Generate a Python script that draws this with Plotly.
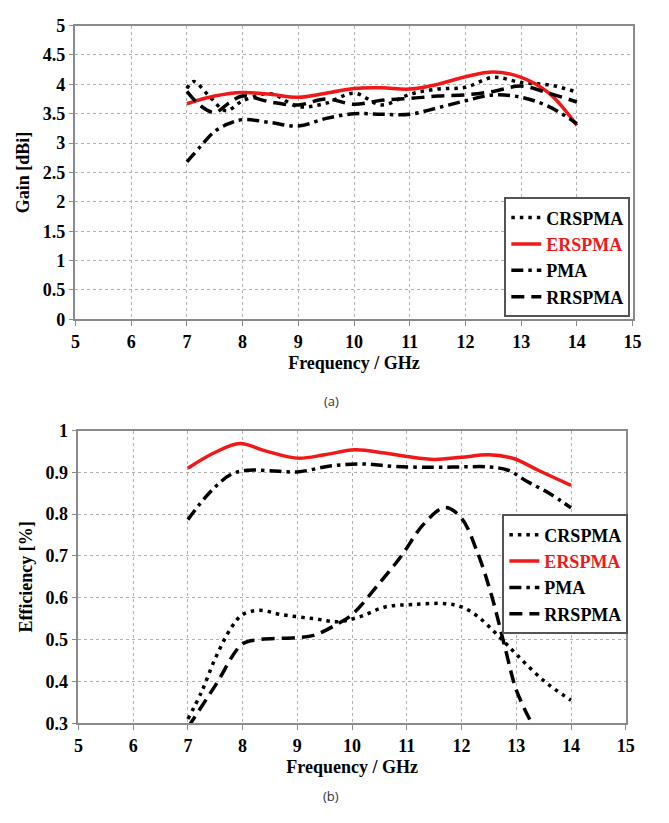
import plotly.graph_objects as go

# ---------------- data: (a) Gain ----------------
gain_cr_f = [7.0, 7.12, 7.4, 7.7, 8.0, 8.5, 9.0, 9.5, 10.0, 10.5, 11.0, 11.5, 12.0, 12.5, 13.0, 13.5, 14.0]
gain_cr = [3.93, 4.05, 3.80, 3.55, 3.72, 3.84, 3.62, 3.68, 3.85, 3.65, 3.83, 3.92, 3.95, 4.12, 4.03, 3.99, 3.87]

gain_er_f = [7.0, 7.5, 8.0, 8.5, 9.0, 9.5, 10.0, 10.5, 11.0, 11.5, 12.0, 12.5, 13.0, 13.5, 14.0]
gain_er = [3.67, 3.80, 3.86, 3.83, 3.78, 3.85, 3.93, 3.94, 3.92, 4.00, 4.13, 4.21, 4.12, 3.85, 3.30]

gain_pma_f = [7.0, 7.25, 7.5, 7.75, 8.0, 8.5, 9.0, 9.5, 10.0, 10.5, 11.0, 11.5, 12.0, 12.5, 13.0, 13.5, 14.0]
gain_pma = [2.68, 2.95, 3.20, 3.33, 3.40, 3.35, 3.29, 3.42, 3.50, 3.49, 3.49, 3.60, 3.72, 3.82, 3.78, 3.62, 3.33]

gain_rr_f = [7.0, 7.25, 7.5, 7.75, 8.0, 8.5, 9.0, 9.5, 10.0, 10.5, 11.0, 11.5, 12.0, 12.5, 13.0, 13.5, 14.0]
gain_rr = [3.88, 3.63, 3.52, 3.68, 3.80, 3.70, 3.65, 3.75, 3.66, 3.73, 3.76, 3.80, 3.82, 3.88, 3.97, 3.85, 3.70]

# ---------------- data: (b) Efficiency ----------------
eff_cr_f = [7.0, 7.25, 7.5, 7.8, 8.0, 8.3, 8.7, 9.3, 9.75, 10.15, 10.6, 11.1, 11.7, 12.0, 12.3, 12.65, 13.0, 13.5, 14.0]
eff_cr = [0.31, 0.375, 0.455, 0.53, 0.56, 0.57, 0.56, 0.55, 0.543, 0.555, 0.578, 0.584, 0.586, 0.578, 0.555, 0.512, 0.465, 0.402, 0.355]

eff_er_f = [7.0, 7.5, 7.95, 8.4, 9.0, 9.5, 10.05, 10.6, 11.0, 11.5, 12.0, 12.5, 12.95, 13.4, 14.0]
eff_er = [0.91, 0.948, 0.969, 0.952, 0.934, 0.942, 0.954, 0.946, 0.938, 0.931, 0.936, 0.942, 0.933, 0.905, 0.869]

eff_pma_f = [7.0, 7.4, 7.8, 8.1, 8.5, 9.0, 9.6, 10.2, 10.8, 11.5, 12.0, 12.5, 12.85, 13.2, 13.6, 14.0]
eff_pma = [0.787, 0.852, 0.896, 0.905, 0.904, 0.901, 0.915, 0.92, 0.914, 0.912, 0.913, 0.913, 0.905, 0.878, 0.85, 0.815]

eff_rr_f = [7.0, 7.5, 8.0, 8.3, 9.0, 9.3, 9.7, 10.0, 10.5, 10.9, 11.3, 11.7, 12.0, 12.3, 12.55, 12.8, 13.0, 13.3]
eff_rr = [0.29, 0.39, 0.49, 0.50, 0.505, 0.51, 0.535, 0.56, 0.635, 0.70, 0.775, 0.816, 0.79, 0.705, 0.605, 0.478, 0.38, 0.295]

series_names = ["CRSPMA", "ERSPMA", "PMA", "RRSPMA"]
x_tickvals = [5, 6, 7, 8, 9, 10, 11, 12, 13, 14, 15]
x_ticklabels = ["5", "6", "7", "8", "9", "10", "11", "12", "13", "14", "15"]
gain_tickvals = [0, 0.5, 1, 1.5, 2, 2.5, 3, 3.5, 4, 4.5, 5]
gain_ticklabels = ["0", "0.5", "1", "1.5", "2", "2.5", "3", "3.5", "4", "4.5", "5"]
eff_tickvals = [0.3, 0.4, 0.5, 0.6, 0.7, 0.8, 0.9, 1.0]
eff_ticklabels = ["0.3", "0.4", "0.5", "0.6", "0.7", "0.8", "0.9", "1"]

# ---------------- styles ----------------
SERIF = "Liberation Serif, Times New Roman, serif"
RED = "#f01818"
styles = {
    "CRSPMA": dict(color="black", width=3.5, dash="3.5px,5px"),
    "ERSPMA": dict(color=RED, width=3.5, dash="solid"),
    "PMA": dict(color="black", width=3.5, dash="12px,5px,3.5px,5px"),
    "RRSPMA": dict(color="black", width=3.5, dash="13px,7px"),
}
legend_labels = {
    "CRSPMA": "<b>CRSPMA</b>",
    "ERSPMA": f"<b><span style='color:{RED}'>ERSPMA</span></b>",
    "PMA": "<b>PMA</b>",
    "RRSPMA": "<b>RRSPMA</b>",
}


def bold(labels):
    return ["<b>" + t + "</b>" for t in labels]


fig = go.Figure()

top = {"CRSPMA": (gain_cr_f, gain_cr), "ERSPMA": (gain_er_f, gain_er),
       "PMA": (gain_pma_f, gain_pma), "RRSPMA": (gain_rr_f, gain_rr)}
bot = {"CRSPMA": (eff_cr_f, eff_cr), "ERSPMA": (eff_er_f, eff_er),
       "PMA": (eff_pma_f, eff_pma), "RRSPMA": (eff_rr_f, eff_rr)}

for name in series_names:
    xs, ys = top[name]
    fig.add_trace(go.Scatter(x=xs, y=ys, mode="lines", name=legend_labels[name],
                             line=dict(shape="spline", smoothing=1.0, **styles[name]),
                             xaxis="x", yaxis="y", legend="legend", legendgroup="a" + name))
for name in series_names:
    xs, ys = bot[name]
    fig.add_trace(go.Scatter(x=xs, y=ys, mode="lines", name=legend_labels[name],
                             line=dict(shape="spline", smoothing=1.0, **styles[name]),
                             xaxis="x2", yaxis="y2", legend="legend2", legendgroup="b" + name))

tickfont = dict(family=SERIF, size=18, color="black")
titlefont = dict(family=SERIF, size=18, color="black")
axis_common = dict(showgrid=True, gridcolor="#b0b0b0", griddash="dot", gridwidth=1,
                   showline=True, linecolor="#8a8a8a", linewidth=1.5, mirror=True,
                   ticks="outside", ticklen=5, tickcolor="#8a8a8a",
                   tickfont=tickfont, zeroline=False, tickmode="array")

legend_common = dict(font=dict(family=SERIF, size=18, color="black"),
                     bgcolor="white", bordercolor="#555555", borderwidth=2,
                     xanchor="left", yanchor="top", tracegroupgap=3,
                     traceorder="normal", itemwidth=30)

fig.update_layout(
    width=669, height=823,
    margin=dict(l=0, r=0, t=0, b=0),
    paper_bgcolor="white", plot_bgcolor="white",
    xaxis=dict(domain=[72 / 669, 641 / 669], range=[5, 15], anchor="y",
               tickvals=x_tickvals, ticktext=bold(x_ticklabels),
               title=dict(text="<b>Frequency / GHz</b>", font=titlefont, standoff=6), **axis_common),
    yaxis=dict(domain=[1 - 317 / 823, 1 - 16 / 823], range=[0, 5], anchor="x",
               tickvals=gain_tickvals, ticktext=bold(gain_ticklabels),
               title=dict(text="<b>Gain [dBi]</b>", font=titlefont, standoff=8), **axis_common),
    xaxis2=dict(domain=[75 / 669, 634 / 669], range=[5, 15], anchor="y2",
                tickvals=x_tickvals, ticktext=bold(x_ticklabels),
                title=dict(text="<b>Frequency / GHz</b>", font=titlefont, standoff=6), **axis_common),
    yaxis2=dict(domain=[1 - 731 / 823, 1 - 431 / 823], range=[0.3, 1], anchor="x2",
                tickvals=eff_tickvals, ticktext=bold(eff_ticklabels),
                title=dict(text="<b>Efficiency [%]</b>", font=titlefont, standoff=8), **axis_common),
    legend=dict(x=510 / 669, y=1 - 192 / 823, **legend_common),
    legend2=dict(x=508 / 669, y=1 - 517 / 823, **legend_common),
    annotations=[
        dict(text="(a)", x=333 / 669, y=1 - 401 / 823, xref="paper", yref="paper",
             xanchor="center", yanchor="middle",
             showarrow=False, font=dict(family="Open Sans", size=13, color="#333333")),
        dict(text="(b)", x=333 / 669, y=1 - 806 / 823, xref="paper", yref="paper",
             xanchor="center", yanchor="middle",
             showarrow=False, font=dict(family="Open Sans", size=13, color="#333333")),
    ],
)

fig.write_html("out.html")
